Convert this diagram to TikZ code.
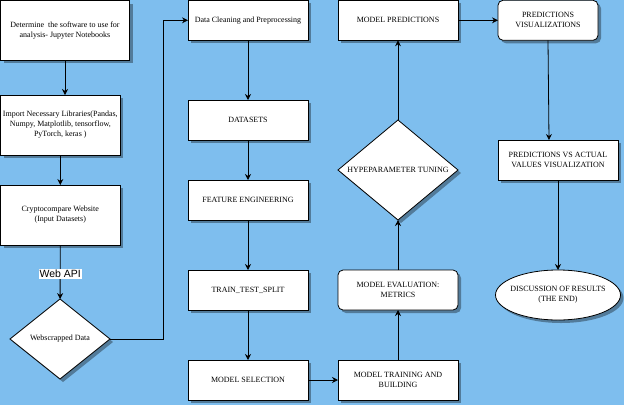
\documentclass[tikz,border=0pt]{standalone}
\usepackage{fontspec}
\setmainfont{Liberation Serif}
\newfontfamily\labelfont{Liberation Sans}
\usetikzlibrary{arrows.meta,shapes.geometric,shadows}
\definecolor{canvasblue}{RGB}{126,190,238}
\begin{document}
\begin{tikzpicture}[x=1pt,y=-1pt,
  shade/.style={drop shadow={shadow xshift=3pt,shadow yshift=-3pt,fill=black,opacity=0.35}},
  base/.style={draw=black,line width=0.8pt,fill=white,shade,align=center,
    font=\fontsize{8}{10}\selectfont,outer sep=0pt},
  box/.style={base,rectangle,inner sep=1pt,minimum width=120pt,minimum height=40pt},
  rbox/.style={box,rounded corners=5pt},
  decision/.style={base,diamond,inner sep=0pt,aspect=1.2},
  terminal/.style={base,ellipse,inner xsep=-20pt,inner ysep=0pt,minimum width=125pt,minimum height=50pt},
  arr/.style={draw=black,line width=0.8pt,-{Stealth[length=6pt,width=6pt,inset=2pt]}},
  apilabel/.style={fill=white,inner sep=1pt,font=\labelfont\fontsize{10.5}{12}\selectfont}]
\useasboundingbox (0,0) rectangle (624,405);
\fill[canvasblue] (0,0) rectangle (624,405);

% left column
\node[box,minimum width=129pt,minimum height=59.5pt] (det) at (65,30.3) {Determine\ \ the software to use for\\analysis- Jupyter Notebooks};
\node[box,minimum width=119.5pt,minimum height=60pt] (imp) at (60.3,125) {Import Necessary Libraries(Pandas,\\Numpy, Matplotlib, tensorflow,\\PyTorch, keras )};
\node[box,minimum width=119.5pt,minimum height=60pt] (crypto) at (60.3,215) {Cryptocompare Website\\(Input Datasets)};
\node[decision,minimum width=100pt,minimum height=80pt] (web) at (60,339) {Webscrapped Data};

% middle column
\node[box] (clean) at (248,20.3) {Data Cleaning and Preprocessing};
\node[box] (data) at (248,120) {DATASETS};
\node[box] (feat) at (248,200) {FEATURE ENGINEERING};
\node[box] (split) at (248,290) {TRAIN\_TEST\_SPLIT};
\node[box] (select) at (248,380) {MODEL SELECTION};

% modelling column
\node[box] (train) at (398,380) {MODEL TRAINING AND\\BUILDING};
\node[rbox] (eval) at (398,290) {MODEL EVALUATION:\\METRICS};
\node[decision,minimum width=120pt,minimum height=100pt] (tune) at (398,170) {HYPEPARAMETER TUNING};
\node[box] (pred) at (398,20.3) {MODEL PREDICTIONS};

% right column
\node[rbox,minimum width=100pt] (vis) at (548,20.3) {PREDICTIONS\\VISUALIZATIONS};
\node[box] (vsact) at (558,160) {PREDICTIONS VS ACTUAL\\VALUES VISUALIZATION};
\node[terminal] (end) at (558,295) {DISCUSSION OF RESULTS\\(THE END)};

% connectors
\draw[arr] (det.south) -- (det.south |- imp.north);
\draw[arr] (imp) -- (crypto);
\draw[arr] (crypto) -- node[apilabel,pos=0.54] {Web API} (web);
\coordinate (turn) at (163,339);
\draw[arr] (web.east) -- (turn) |- (clean.west);
\draw[arr] (clean) -- (data);
\draw[arr] (data) -- (feat);
\draw[arr] (feat) -- (split);
\draw[arr] (split) -- (select);
\draw[arr] (select) -- (train);
\draw[arr] (train) -- (eval);
\draw[arr] (eval) -- (tune);
\draw[arr] (tune) -- (pred);
\draw[arr] (pred) -- (vis);
\coordinate (vsin) at (549,140);
\draw[arr] (vis.south) -- (vsin);
\draw[arr] (vsact) -- (end);
\end{tikzpicture}
\end{document}
